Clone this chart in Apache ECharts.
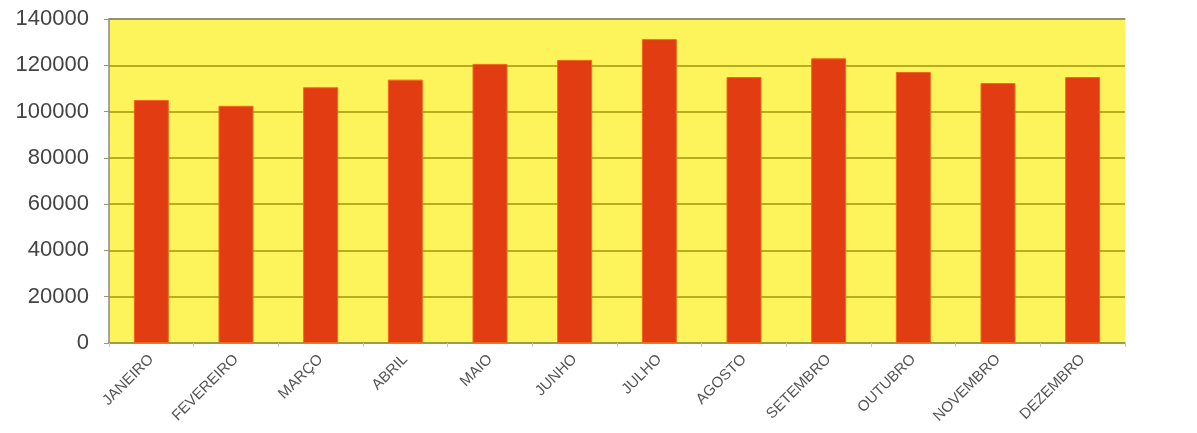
<!DOCTYPE html>
<html><head><meta charset="utf-8">
<script src="https://cdn.jsdelivr.net/npm/echarts@6/dist/echarts.min.js"></script>
<style>html,body{margin:0;padding:0;background:#fff}#c{width:1197px;height:433px}</style>
</head><body><div id="c"></div>
<script>
const categories = ['JANEIRO','FEVEREIRO','MARÇO','ABRIL','MAIO','JUNHO','JULHO','AGOSTO','SETEMBRO','OUTUBRO','NOVEMBRO','DEZEMBRO'];
const values = [105000, 102500, 110500, 113800, 120600, 122300, 131300, 114900, 123000, 117100, 112300, 114900];
const chart = echarts.init(document.getElementById('c'));
chart.setOption({
  animation: false,
  grid: {left: 109, right: 72, top: 19, bottom: 90, show: true, backgroundColor: '#fcf45a', borderWidth: 0},
  xAxis: [{
    type: 'category', data: categories,
    axisLine: {lineStyle: {color: '#8f9a5a', width: 1.5}},
    axisTick: {show: true, lineStyle: {color: '#c9c9c9'}, length: 4},
    axisLabel: {rotate: 45, fontSize: 15, color: '#555', fontFamily: 'Liberation Sans', margin: 14, interval: 0}
  }, {
    type: 'category', data: categories, position: 'top',
    axisLine: {lineStyle: {color: '#8a8a8a', width: 1.5}},
    axisTick: {show: false}, axisLabel: {show: false}
  }],
  yAxis: {
    type: 'value', min: 0, max: 140000, interval: 20000,
    axisLine: {show: true, lineStyle: {color: '#8a8a8a', width: 1.5}},
    axisTick: {show: true, length: 5, lineStyle: {color: '#9a9a6a'}},
    axisLabel: {fontSize: 22, color: '#444', fontFamily: 'Liberation Sans', margin: 20, formatter: v => String(v)},
    splitLine: {lineStyle: {color: '#b5ae1e', width: 2}}
  },
  series: [{
    type: 'bar', data: values, barWidth: 35,
    itemStyle: {color: '#e23c12', borderColor: '#ee6a1c', borderWidth: 1}
  }]
});
</script></body></html>
